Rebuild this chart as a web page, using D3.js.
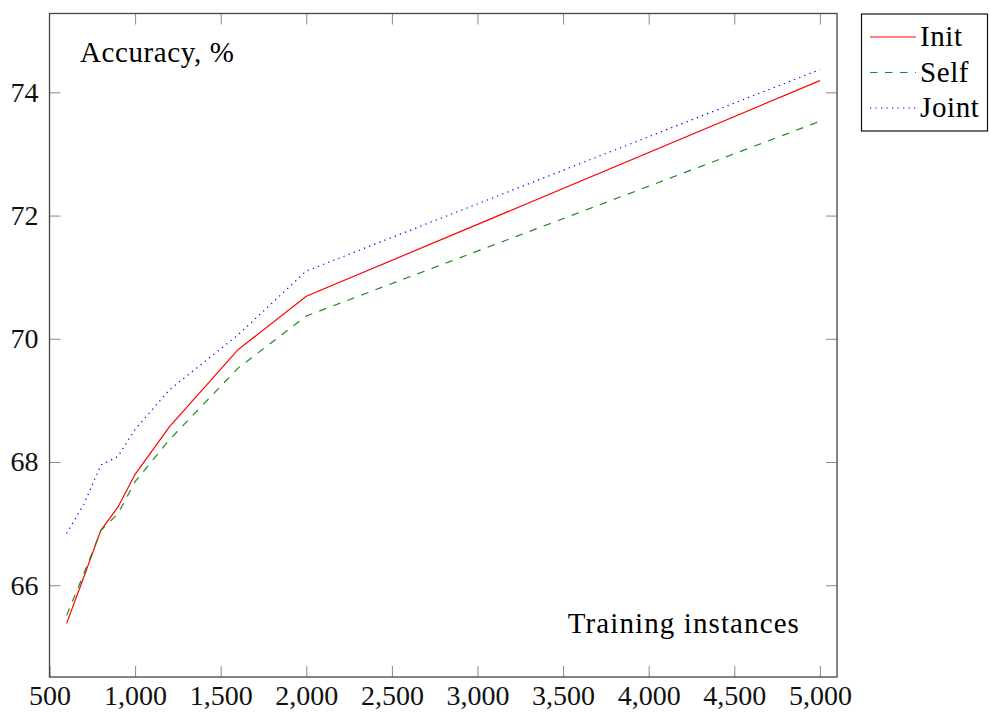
<!DOCTYPE html>
<html lang="en">
  <head>
    <meta charset="UTF-8" />
    <title>Accuracy vs training instances</title>
    <script src="https://d3js.org/d3.v7.min.js"></script>
    <style>
      body {
        margin: 0;
        background: white;
      }
      svg {
        display: block;
      }
      svg text {
        font-family: 'Liberation Serif', serif;
      }
      .tick text {
        font-size: 28px;
        fill: #111;
      }
    </style>
  </head>
  <body>
    <svg width="990" height="713"></svg>

    <script>
      // data
      const sizes = [600, 700, 800, 900, 1000, 1200, 1600, 2000, 5000];
      const initAcc = [65.38, 66.13, 66.89, 67.27, 67.8, 68.57, 69.82, 70.69, 74.19];
      const selfAcc = [65.51, 66.18, 66.89, 67.16, 67.68, 68.36, 69.52, 70.37, 73.53];
      const jointAcc = [66.84, 67.31, 67.95, 68.09, 68.53, 69.17, 70.06, 71.1, 74.37];
      const seriesNames = ['Init', 'Self', 'Joint'];
      const xTicks = [500, 1000, 1500, 2000, 2500, 3000, 3500, 4000, 4500, 5000];
      const yTicks = [66, 68, 70, 72, 74];

      const plotL = 49.5, plotR = 837, plotT = 13.5, plotB = 677;

      const svg = d3.select('svg');

      const x = d3.scaleLinear().domain([500, 5100]).range([plotL, plotR]);
      const y = d3.scaleLinear().domain([64.51, 75.28]).range([plotB, plotT]);

      const styles = [
        { color: '#ff0000', dash: null },
        { color: '#1c8c1c', dash: '7.5,7.5' },
        { color: '#0000ff', dash: '1.3,4.2' },
      ];
      const allSeries = [initAcc, selfAcc, jointAcc];

      // axes (ticks point inward, on all four sides)
      const tickStyle = (g) => {
        g.attr('font-family', null).attr('font-size', null);
        g.select('.domain').remove();
        g.selectAll('.tick line').attr('stroke', '#888').attr('stroke-width', 1);
      };

      svg.append('g')
        .attr('transform', `translate(0,${plotB})`)
        .call(d3.axisBottom(x).tickValues(xTicks).tickFormat(d3.format(',')).tickSize(-11).tickPadding(8))
        .call(tickStyle);

      svg.append('g')
        .attr('transform', `translate(0,${plotT})`)
        .call(d3.axisTop(x).tickValues(xTicks.slice(1)).tickFormat('').tickSize(-11))
        .call(tickStyle);

      svg.append('g')
        .attr('transform', `translate(${plotL},0)`)
        .call(d3.axisLeft(y).tickValues(yTicks).tickSize(-11).tickPadding(11))
        .call(tickStyle);

      svg.append('g')
        .attr('transform', `translate(${plotR},0)`)
        .call(d3.axisRight(y).tickValues(yTicks).tickFormat('').tickSize(-11))
        .call(tickStyle);

      svg.append('rect')
        .attr('x', plotL).attr('y', plotT)
        .attr('width', plotR - plotL).attr('height', plotB - plotT)
        .attr('fill', 'none').attr('stroke', '#444').attr('stroke-width', 1.3);

      // lines
      const line = d3.line()
        .x((d) => x(d[0]))
        .y((d) => y(d[1]));

      allSeries.forEach((vals, i) => {
        svg.append('path')
          .datum(sizes.map((s, j) => [s, vals[j]]))
          .attr('d', line)
          .attr('fill', 'none')
          .attr('stroke', styles[i].color)
          .attr('stroke-width', 1.2)
          .attr('stroke-dasharray', styles[i].dash);
      });

      // axis labels inside the plot
      svg.append('text')
        .attr('x', 80).attr('y', 62)
        .attr('font-size', 29)
        .attr('letter-spacing', 0.6)
        .text('Accuracy, %');

      svg.append('text')
        .attr('x', 800).attr('y', 633)
        .attr('text-anchor', 'end')
        .attr('font-size', 29)
        .attr('letter-spacing', 1.1)
        .text('Training instances');

      // legend
      const legend = svg.append('g');
      legend.append('rect')
        .attr('x', 861.5).attr('y', 14)
        .attr('width', 126).attr('height', 117)
        .attr('fill', 'white').attr('stroke', '#111').attr('stroke-width', 1.2);

      seriesNames.forEach((name, i) => {
        const cy = 37 + i * 35.5;
        legend.append('line')
          .attr('x1', 870).attr('x2', 916)
          .attr('y1', cy).attr('y2', cy)
          .attr('stroke', styles[i].color)
          .attr('stroke-width', 1.2)
          .attr('stroke-dasharray', styles[i].dash);
        legend.append('text')
          .attr('x', 920).attr('y', cy + 9)
          .attr('font-size', 29)
          .attr('letter-spacing', 0.6)
          .text(name);
      });
    </script>
  </body>
</html>
